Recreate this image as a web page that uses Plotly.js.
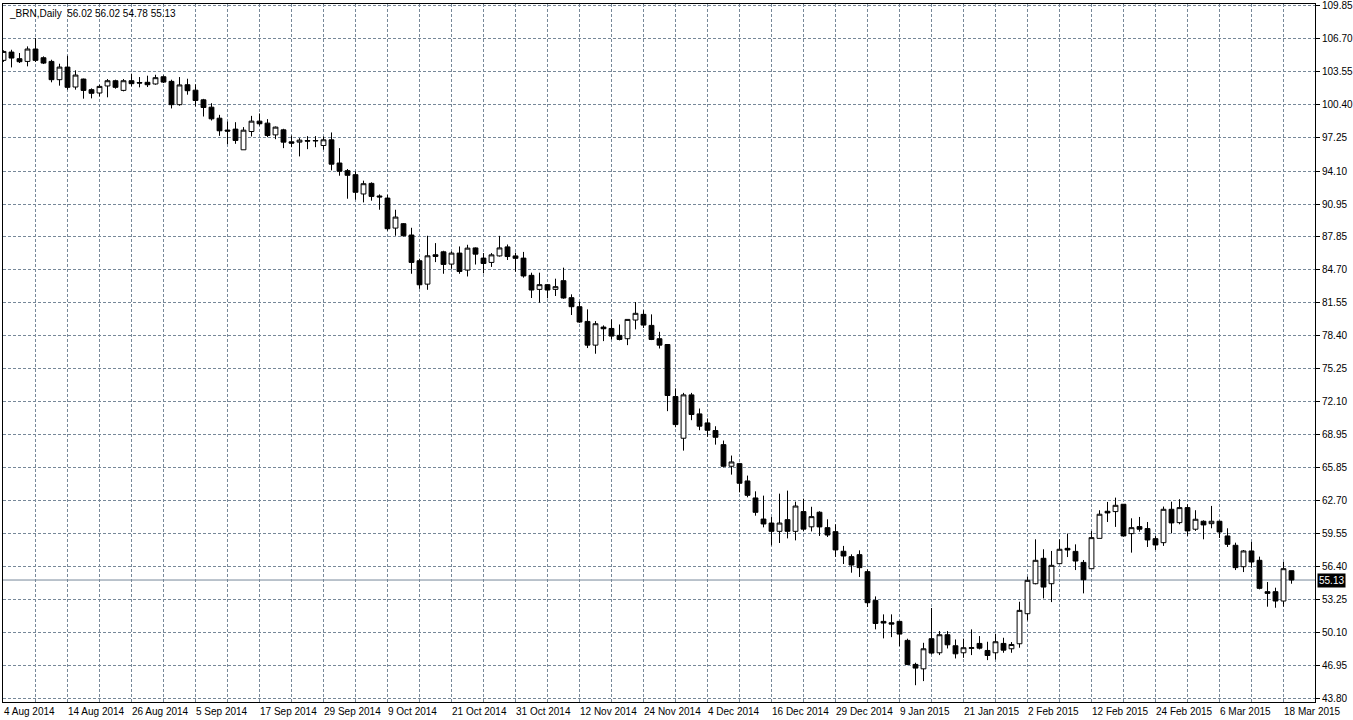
<!DOCTYPE html>
<html>
<head>
<meta charset="utf-8">
<script src="https://cdn.plot.ly/plotly-3.0.1.min.js"></script>
<style>html,body{margin:0;padding:0;background:#fff;}#chart{width:1353px;height:720px;}</style>
</head>
<body>
<div id="chart"></div>
<script>
const symbol = "_BRN,Daily";

const dates = [
"4 Aug 2014","5 Aug 2014","6 Aug 2014","7 Aug 2014","8 Aug 2014","11 Aug 2014","12 Aug 2014","13 Aug 2014","14 Aug 2014","15 Aug 2014",
"18 Aug 2014","19 Aug 2014","20 Aug 2014","21 Aug 2014","22 Aug 2014","25 Aug 2014","26 Aug 2014","27 Aug 2014","28 Aug 2014","29 Aug 2014",
"1 Sep 2014","2 Sep 2014","3 Sep 2014","4 Sep 2014","5 Sep 2014","8 Sep 2014","9 Sep 2014","10 Sep 2014","11 Sep 2014","12 Sep 2014",
"15 Sep 2014","16 Sep 2014","17 Sep 2014","18 Sep 2014","19 Sep 2014","22 Sep 2014","23 Sep 2014","24 Sep 2014","25 Sep 2014","26 Sep 2014",
"29 Sep 2014","30 Sep 2014","1 Oct 2014","2 Oct 2014","3 Oct 2014","6 Oct 2014","7 Oct 2014","8 Oct 2014","9 Oct 2014","10 Oct 2014",
"13 Oct 2014","14 Oct 2014","15 Oct 2014","16 Oct 2014","17 Oct 2014","20 Oct 2014","21 Oct 2014","22 Oct 2014","23 Oct 2014","24 Oct 2014",
"27 Oct 2014","28 Oct 2014","29 Oct 2014","30 Oct 2014","31 Oct 2014","3 Nov 2014","4 Nov 2014","5 Nov 2014","6 Nov 2014","7 Nov 2014",
"10 Nov 2014","11 Nov 2014","12 Nov 2014","13 Nov 2014","14 Nov 2014","17 Nov 2014","18 Nov 2014","19 Nov 2014","20 Nov 2014","21 Nov 2014",
"24 Nov 2014","25 Nov 2014","26 Nov 2014","27 Nov 2014","28 Nov 2014","1 Dec 2014","2 Dec 2014","3 Dec 2014","4 Dec 2014","5 Dec 2014",
"8 Dec 2014","9 Dec 2014","10 Dec 2014","11 Dec 2014","12 Dec 2014","15 Dec 2014","16 Dec 2014","17 Dec 2014","18 Dec 2014","19 Dec 2014",
"22 Dec 2014","23 Dec 2014","24 Dec 2014","26 Dec 2014","29 Dec 2014","30 Dec 2014","31 Dec 2014","2 Jan 2015","5 Jan 2015","6 Jan 2015",
"7 Jan 2015","8 Jan 2015","9 Jan 2015","12 Jan 2015","13 Jan 2015","14 Jan 2015","15 Jan 2015","16 Jan 2015","19 Jan 2015","20 Jan 2015",
"21 Jan 2015","22 Jan 2015","23 Jan 2015","26 Jan 2015","27 Jan 2015","28 Jan 2015","29 Jan 2015","30 Jan 2015","2 Feb 2015","3 Feb 2015",
"4 Feb 2015","5 Feb 2015","6 Feb 2015","9 Feb 2015","10 Feb 2015","11 Feb 2015","12 Feb 2015","13 Feb 2015","16 Feb 2015","17 Feb 2015",
"18 Feb 2015","19 Feb 2015","20 Feb 2015","23 Feb 2015","24 Feb 2015","25 Feb 2015","26 Feb 2015","27 Feb 2015","2 Mar 2015","3 Mar 2015",
"4 Mar 2015","5 Mar 2015","6 Mar 2015","9 Mar 2015","10 Mar 2015","11 Mar 2015","12 Mar 2015","13 Mar 2015","16 Mar 2015","17 Mar 2015",
"18 Mar 2015","19 Mar 2015"
];

const open = [
104.64,105.43,104.80,104.54,105.72,104.89,104.54,102.80,104.00,102.10,
102.86,101.85,101.53,102.20,102.70,101.78,102.70,102.53,102.55,102.39,
103.08,102.64,100.42,102.32,101.80,100.88,100.18,99.13,98.00,98.09,
96.12,97.86,98.85,98.66,97.54,98.02,96.88,96.85,97.00,96.96,
96.53,97.07,94.86,94.13,93.75,91.91,92.92,91.72,91.52,88.66,
89.08,88.00,85.55,83.32,86.12,86.40,85.23,86.28,84.66,86.77,
85.80,85.39,86.01,86.87,86.01,85.80,84.16,82.82,83.27,82.82,
83.65,82.03,81.17,79.77,77.51,79.23,79.10,78.44,78.12,79.90,
80.44,79.39,78.12,77.57,72.61,68.64,72.77,70.96,70.10,69.37,
68.03,65.97,66.22,64.57,62.95,60.94,60.56,59.77,60.88,59.77,
61.65,60.20,61.59,60.12,59.74,57.87,57.36,57.55,55.93,53.19,
51.19,51.06,51.19,49.38,47.09,46.67,49.54,48.20,49.92,48.87,
48.20,48.62,49.09,48.42,48.20,49.09,48.58,49.06,51.92,54.78,
57.20,54.78,56.69,58.15,57.86,56.81,56.21,59.10,61.68,61.65,
62.35,59.55,60.22,60.03,59.07,58.69,61.87,60.60,62.03,59.97,
60.73,60.50,60.73,59.33,58.44,56.40,57.90,57.01,54.02,54.02,
53.13,56.02
];

const high = [
105.60,105.65,105.34,105.97,106.76,105.02,104.70,104.32,105.08,103.69,
102.90,101.97,102.32,102.86,102.80,102.86,103.37,103.05,103.18,103.27,
103.21,102.80,103.05,102.89,102.36,100.97,100.56,99.45,98.81,98.75,
98.28,99.35,99.58,99.04,98.34,98.12,97.48,97.23,97.42,97.42,
97.39,97.77,96.28,94.29,94.07,93.18,93.02,91.87,91.84,90.41,
89.14,88.69,85.74,87.93,87.23,86.50,86.44,86.91,87.07,86.82,
86.28,86.28,87.92,87.10,86.32,86.39,84.41,84.41,83.33,83.84,
84.89,82.35,81.65,80.92,79.80,79.39,79.96,79.48,79.96,81.62,
80.84,80.44,78.78,77.57,73.38,72.96,72.96,71.47,70.52,69.78,
68.42,66.99,66.29,65.08,63.58,63.17,61.13,63.36,63.65,62.60,
62.87,62.11,61.68,60.92,60.44,58.38,57.58,57.96,56.15,53.57,
51.86,51.86,51.25,49.54,47.25,49.15,52.46,50.27,50.27,49.47,
49.54,50.43,49.79,49.25,50.01,49.63,49.22,53.06,55.45,59.01,
58.06,57.90,59.01,59.55,58.53,57.04,59.80,61.78,62.57,62.98,
62.35,61.01,61.14,60.66,59.33,62.13,62.60,62.83,62.35,61.78,
60.82,62.19,60.79,60.06,58.69,57.99,58.76,57.36,54.94,54.40,
56.85,56.02
];

const low = [
104.50,103.97,104.39,104.07,104.48,104.29,102.55,102.23,101.85,101.85,
100.99,101.02,101.21,101.12,101.94,101.69,102.16,102.07,102.10,102.32,
102.48,100.06,100.32,101.37,100.25,99.29,98.91,97.45,96.66,96.69,
96.12,97.39,98.43,97.32,97.13,96.28,96.37,95.49,96.18,96.37,
96.12,94.16,93.65,91.46,91.37,91.11,91.27,90.41,88.41,87.93,
87.87,84.31,82.87,82.78,85.42,84.31,84.78,84.31,84.05,85.19,
84.35,84.96,85.95,85.62,84.50,83.94,82.00,81.55,81.97,82.19,
81.93,80.38,79.64,77.23,76.69,77.89,78.05,77.96,77.51,79.01,
79.15,77.99,77.19,71.22,69.69,67.46,70.36,69.40,68.77,68.03,
65.87,65.17,63.49,63.01,61.26,60.15,58.43,58.66,59.10,58.91,
59.80,59.76,59.33,59.23,57.33,56.66,55.83,55.42,52.56,50.43,
49.57,49.69,48.83,47.02,45.11,45.50,48.04,47.98,48.61,47.66,
47.72,47.98,48.52,47.50,47.56,48.20,48.20,48.68,51.28,54.72,
53.38,53.03,56.69,57.32,56.08,53.86,56.21,59.10,60.66,60.19,
59.26,57.74,59.74,58.28,57.99,58.38,59.58,60.44,59.33,59.81,
59.01,60.06,59.14,58.28,56.08,55.89,56.31,54.24,52.59,52.49,
52.59,54.78
];

const close = [
105.49,104.86,104.51,105.72,104.64,104.38,102.80,104.00,102.07,103.24,
101.78,101.50,102.16,102.70,102.07,102.70,102.42,102.48,102.32,102.99,
102.57,100.42,102.30,101.75,100.82,100.15,99.07,97.93,97.90,97.01,
97.99,98.85,98.60,97.48,98.28,96.85,96.75,97.04,96.95,97.00,
97.07,94.75,94.07,93.69,92.07,92.89,91.68,91.63,88.60,89.71,
87.93,85.39,83.26,86.02,85.96,85.20,86.28,84.53,86.75,86.18,
85.29,86.11,86.77,85.95,85.78,84.10,82.76,83.27,82.76,83.08,
82.00,81.17,79.71,77.51,79.55,79.07,78.37,78.05,79.96,80.54,
79.42,78.05,77.51,72.71,69.94,72.77,70.90,69.79,69.40,68.73,
65.97,66.38,64.35,63.20,61.58,60.47,59.77,60.56,59.77,62.18,
59.98,61.17,60.19,59.42,58.00,57.42,56.56,56.31,52.97,50.99,
51.03,50.93,49.98,47.09,46.74,48.58,48.17,49.92,48.96,48.10,
48.68,48.68,48.64,47.94,49.25,48.45,48.99,52.24,55.10,57.01,
54.46,56.53,58.06,57.99,56.94,55.16,59.17,61.40,61.52,62.25,
59.33,60.12,59.97,58.95,58.47,61.87,60.57,62.03,59.81,60.92,
60.38,60.73,59.71,58.53,56.31,57.90,56.85,54.34,53.86,53.13,
56.21,55.13
];

const yTicks = [43.80,46.95,50.10,53.25,56.40,59.55,62.70,65.85,68.95,72.10,75.25,78.40,81.55,84.70,87.85,90.95,94.10,97.25,100.40,103.55,106.70,109.85];

const n = dates.length;
const last = n - 1;
const gridColor = '#778899';
const fontFam = 'Liberation Sans, Arial, sans-serif';

const gridVals = dates.filter((d, i) => i % 4 === 0);
const gridText = dates.map((d, i) => (i % 8 === 0 ? d : '')).filter((d, i) => i % 4 === 0);
const labelVals = dates.filter((d, i) => i % 8 === 0);

const xRange = [-0.0625, 163.9375];

const trace = {
  type: 'candlestick',
  x: dates,
  open: open, high: high, low: low, close: close,
  increasing: {line: {color: '#000000', width: 1}, fillcolor: '#ffffff'},
  decreasing: {line: {color: '#000000', width: 1}, fillcolor: '#000000'},
  whiskerwidth: 0,
  hoverinfo: 'skip',
  showlegend: false
};

const layout = {
  width: 1353, height: 720,
  margin: {l: 3, r: 38, t: 4, b: 18, pad: 0},
  paper_bgcolor: '#ffffff', plot_bgcolor: '#ffffff',
  showlegend: false,
  boxgap: 0.4, boxgroupgap: 0,
  font: {family: fontFam, size: 10, color: '#000000'},
  xaxis: {
    type: 'category', categoryorder: 'array', categoryarray: dates,
    range: xRange, rangeslider: {visible: false},
    tickmode: 'array', tickvals: gridVals, ticktext: gridText,
    tickangle: 0,
    ticks: '', ticklabelposition: 'outside right',
    tickfont: {family: fontFam, size: 10, color: '#000000'},
    showgrid: true, gridcolor: gridColor, griddash: '3px,2px', gridwidth: 1,
    showline: true, mirror: true, linecolor: '#000000', linewidth: 1,
    zeroline: false, fixedrange: true
  },
  xaxis2: {
    overlaying: 'x', anchor: 'y', side: 'bottom',
    type: 'category', categoryorder: 'array', categoryarray: dates,
    range: xRange,
    tickmode: 'array', tickvals: labelVals,
    ticks: 'outside', ticklen: 4, tickwidth: 1, tickcolor: '#000000',
    showticklabels: false, showgrid: false, showline: false, zeroline: false
  },
  yaxis: {
    side: 'right', range: [43.51, 110.01],
    tickmode: 'array', tickvals: yTicks, ticktext: yTicks.map(v => v.toFixed(2)),
    ticks: 'outside', ticklen: 4, tickwidth: 1, tickcolor: '#000000',
    tickfont: {family: fontFam, size: 10, color: '#000000'},
    showgrid: true, gridcolor: gridColor, griddash: '3px,2px', gridwidth: 1,
    showline: true, mirror: true, linecolor: '#000000', linewidth: 1,
    zeroline: false, fixedrange: true
  },
  shapes: [{
    type: 'line', xref: 'paper', x0: 0, x1: 1, yref: 'y', y0: close[last], y1: close[last],
    line: {color: gridColor, width: 1}, layer: 'below'
  }],
  annotations: [
    {
      xref: 'paper', yref: 'paper', x: 0, y: 1, xanchor: 'left', yanchor: 'top',
      xshift: 4, yshift: -2, showarrow: false, align: 'left',
      text: symbol + '  ' + [open[last], high[last], low[last], close[last]].map(v => v.toFixed(2)).join(' '),
      font: {family: fontFam, size: 10, color: '#000000'}
    },
    {
      xref: 'paper', yref: 'y', x: 1, y: close[last], xanchor: 'left', yanchor: 'middle',
      xshift: 2, showarrow: false, text: close[last].toFixed(2),
      bgcolor: '#000000', borderpad: 1,
      font: {family: fontFam, size: 10, color: '#ffffff'}
    }
  ]
};

Plotly.newPlot('chart', [trace], layout, {displayModeBar: false, staticPlot: true});
</script>
</body>
</html>
